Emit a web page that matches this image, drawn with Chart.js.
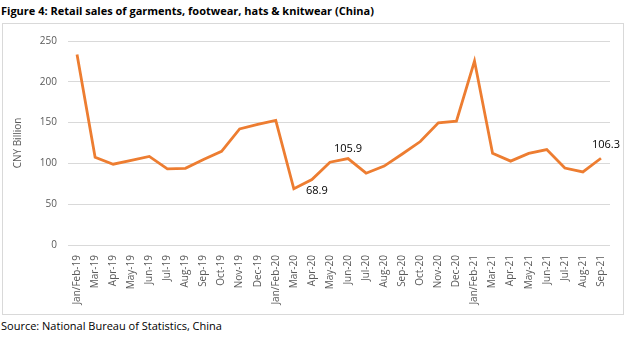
<!DOCTYPE html>
<html>
<head>
<meta charset="utf-8">
<script src="https://cdn.jsdelivr.net/npm/chart.js@4/dist/chart.umd.min.js"></script>
<style>
  body { margin: 0; background: #fff; font-family: "Open Sans", sans-serif; }
  #title { position: absolute; left: 1px; top: 3px; font-size: 11px; font-weight: bold; color: #000; white-space: nowrap; }
  #box { position: absolute; left: 2px; top: 23px; width: 620px; height: 290px; border: 1px solid #d9d9d9; }
  #box canvas { position: absolute; left: 0; top: 0; }
  #source { position: absolute; left: 1px; top: 318px; font-size: 11px; color: #000; white-space: nowrap; }
</style>
</head>
<body>
<div id="title">Figure 4: Retail sales of garments, footwear, hats &amp; knitwear (China)</div>
<div id="box"><canvas id="salesChart" width="620" height="290"></canvas></div>
<div id="source">Source: National Bureau of Statistics, China</div>
<script>
// months (Jan and Feb are reported together)
const months = [
  "Jan/Feb-19", "Mar-19", "Apr-19", "May-19", "Jun-19", "Jul-19", "Aug-19", "Sep-19", "Oct-19", "Nov-19", "Dec-19",
  "Jan/Feb-20", "Mar-20", "Apr-20", "May-20", "Jun-20", "Jul-20", "Aug-20", "Sep-20", "Oct-20", "Nov-20", "Dec-20",
  "Jan/Feb-21", "Mar-21", "Apr-21", "May-21", "Jun-21", "Jul-21", "Aug-21", "Sep-21"
];
// retail sales, CNY billion
const sales = [
  233.5, 107.5, 99.0, 103.8, 108.5, 93.2, 94.0, 104.8, 114.8, 142.3, 147.8,
  152.8, 68.9, 80.2, 101.5, 105.9, 88.0, 96.7, 111.5, 126.8, 149.7, 151.8,
  225.5, 112.3, 102.8, 112.2, 117.0, 94.3, 89.5, 106.3
];
const yTicks = [0, 50, 100, 150, 200, 250];
// points that carry a value label, and the label offset from the point
const labelled = [
  { index: 12, dx: 23, dy: 2 },
  { index: 15, dx: 0, dy: -10 },
  { index: 29, dx: 5, dy: -13 }
];

const valueLabels = {
  id: "valueLabels",
  afterDatasetsDraw(chart) {
    const ctx = chart.ctx;
    const meta = chart.getDatasetMeta(0);
    ctx.save();
    ctx.font = "11px 'Open Sans', sans-serif";
    ctx.fillStyle = "#000";
    ctx.textAlign = "center";
    ctx.textBaseline = "middle";
    labelled.forEach((l) => {
      const pt = meta.data[l.index];
      ctx.fillText(sales[l.index].toFixed(1), pt.x + l.dx, pt.y + l.dy);
    });
    ctx.restore();
  }
};

const ctx = document.getElementById("salesChart").getContext("2d");
new Chart(ctx, {
  type: "line",
  data: {
    labels: months,
    datasets: [{
      data: sales,
      borderColor: "#ED7D31",
      borderWidth: 2.8,
      pointRadius: 0,
      tension: 0,
      fill: false
    }]
  },
  options: {
    responsive: false,
    animation: false,
    layout: { padding: { top: 3, right: 13, left: 0, bottom: 0 } },
    plugins: { legend: { display: false }, tooltip: { enabled: false } },
    scales: {
      x: {
        offset: true,
        grid: { display: false },
        border: { display: false },
        ticks: {
          autoSkip: false,
          minRotation: 90,
          maxRotation: 90,
          color: "#595959",
          font: { size: 10, family: "'Open Sans', sans-serif" },
          padding: 2
        },
        afterFit: (s) => { s.height = 69; }
      },
      y: {
        min: 0,
        max: 250,
        afterBuildTicks: (s) => { s.ticks = yTicks.map((v) => ({ value: v })); },
        grid: { color: "#d9d9d9", drawTicks: false },
        border: { display: false },
        ticks: {
          color: "#595959",
          font: { size: 10, family: "'Open Sans', sans-serif" },
          padding: 11
        },
        title: {
          display: true,
          text: "CNY Billion",
          color: "#595959",
          font: { size: 10, family: "'Open Sans', sans-serif" },
          padding: { top: 9, bottom: 4 }
        },
        afterFit: (s) => { s.width = 65; }
      }
    }
  },
  plugins: [valueLabels]
});
</script>
</body>
</html>
